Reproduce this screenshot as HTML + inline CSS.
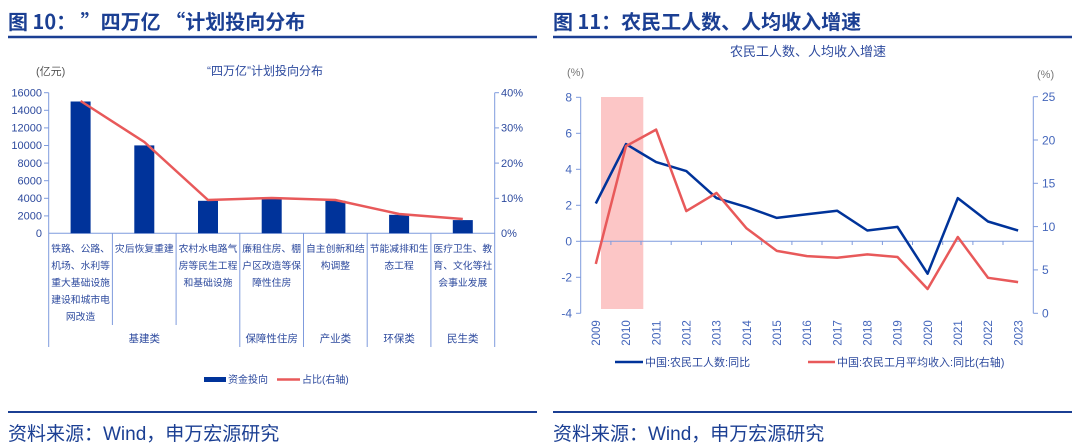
<!DOCTYPE html>
<html><head><meta charset="utf-8"><style>
html,body{margin:0;padding:0;background:#fff;}
svg{display:block;font-family:"Liberation Sans","Noto Sans CJK SC",sans-serif;}
.hd{font-family:"Noto Sans CJK SC","Liberation Sans",sans-serif;}
</style></head><body>
<svg width="1080" height="447" viewBox="0 0 1080 447" xmlns="http://www.w3.org/2000/svg">
<!-- headers -->
<text class="hd" x="8" y="29" font-size="20" font-weight="bold" fill="#1b3f93" xml:space="preserve">图 10： ”四万亿 “计划投向分布</text>
<line x1="8" y1="37" x2="537" y2="37" stroke="#1b3f93" stroke-width="2.5"/>
<text class="hd" x="553" y="29" font-size="20" font-weight="bold" fill="#1b3f93">图 11：农民工人数、人均收入增速</text>
<line x1="553" y1="37" x2="1072" y2="37" stroke="#1b3f93" stroke-width="2.5"/>
<!-- footers -->
<line x1="8" y1="412" x2="537" y2="412" stroke="#1b3f93" stroke-width="2"/>
<line x1="553" y1="412" x2="1072" y2="412" stroke="#1b3f93" stroke-width="2"/>
<text x="8" y="440" font-size="19" fill="#1b3f93">资料来源：Wind，申万宏源研究</text>
<text x="553" y="440" font-size="19" fill="#1b3f93">资料来源：Wind，申万宏源研究</text>

<!-- LEFT CHART -->
<g font-size="11" fill="#2d4a9e">
<text x="265" y="75" text-anchor="middle" font-size="12">“四万亿”计划投向分布</text>
<text x="36" y="75" font-size="11" fill="#555">(亿元)</text>
<g text-anchor="end">
<text x="42" y="96.5">16000</text><text x="42" y="114">14000</text><text x="42" y="131.6">12000</text>
<text x="42" y="149.2">10000</text><text x="42" y="166.8">8000</text><text x="42" y="184.4">6000</text>
<text x="42" y="202">4000</text><text x="42" y="219.6">2000</text><text x="42" y="237.2">0</text>
</g>
<g>
<text x="501" y="96.5">40%</text><text x="501" y="131.6">30%</text><text x="501" y="166.8">20%</text>
<text x="501" y="202">10%</text><text x="501" y="237.2">0%</text>
</g>
</g>
<g stroke="#7f9bdd" stroke-width="1">
<line x1="48.7" y1="92.7" x2="48.7" y2="347"/>
<line x1="494.7" y1="92.7" x2="494.7" y2="347"/>
<line x1="48.7" y1="233.3" x2="494.7" y2="233.3"/>
<line x1="112.4" y1="233.3" x2="112.4" y2="325"/>
<line x1="176.1" y1="233.3" x2="176.1" y2="325"/>
<line x1="239.8" y1="233.3" x2="239.8" y2="347"/>
<line x1="303.5" y1="233.3" x2="303.5" y2="347"/>
<line x1="367.2" y1="233.3" x2="367.2" y2="347"/>
<line x1="430.9" y1="233.3" x2="430.9" y2="347"/>
<line x1="44" y1="92.7" x2="48.7" y2="92.7"/><line x1="44" y1="110.3" x2="48.7" y2="110.3"/>
<line x1="44" y1="127.9" x2="48.7" y2="127.9"/><line x1="44" y1="145.5" x2="48.7" y2="145.5"/>
<line x1="44" y1="163.1" x2="48.7" y2="163.1"/><line x1="44" y1="180.7" x2="48.7" y2="180.7"/>
<line x1="44" y1="198.3" x2="48.7" y2="198.3"/><line x1="44" y1="215.9" x2="48.7" y2="215.9"/>
<line x1="494.7" y1="92.7" x2="499" y2="92.7"/><line x1="494.7" y1="127.9" x2="499" y2="127.9"/>
<line x1="494.7" y1="163.1" x2="499" y2="163.1"/><line x1="494.7" y1="198.3" x2="499" y2="198.3"/>
</g>
<g fill="#00339a">
<rect x="70.6" y="101.5" width="20" height="131.8"/>
<rect x="134.3" y="145.4" width="20" height="87.9"/>
<rect x="198" y="200.8" width="20" height="32.5"/>
<rect x="261.7" y="199" width="20" height="34.3"/>
<rect x="325.4" y="200.8" width="20" height="32.5"/>
<rect x="389.1" y="214.8" width="20" height="18.5"/>
<rect x="452.8" y="220.1" width="20" height="13.2"/>
</g>
<polyline fill="none" stroke="#e8595a" stroke-width="2.5" points="80.6,101 144.3,142 208,200 271.7,198 335.4,200 399.1,214 462.8,219"/>
<g font-size="9.8" fill="#2d4a9e" text-anchor="middle">
<text x="80.6" y="252">铁路、公路、</text><text x="80.6" y="269">机场、水利等</text><text x="80.6" y="286">重大基础设施</text><text x="80.6" y="303">建设和城市电</text><text x="80.6" y="320">网改造</text>
<text x="144.3" y="252">灾后恢复重建</text>
<text x="208" y="252">农村水电路气</text><text x="208" y="269">房等民生工程</text><text x="208" y="286">和基础设施</text>
<text x="271.7" y="252">廉租住房、棚</text><text x="271.7" y="269">户区改造等保</text><text x="271.7" y="286">障性住房</text>
<text x="335.4" y="252">自主创新和结</text><text x="335.4" y="269">构调整</text>
<text x="399.1" y="252">节能减排和生</text><text x="399.1" y="269">态工程</text>
<text x="462.8" y="252">医疗卫生、教</text><text x="462.8" y="269">育、文化等社</text><text x="462.8" y="286">会事业发展</text>
</g>
<g font-size="10.5" fill="#2d4a9e" text-anchor="middle">
<text x="144.3" y="342">基建类</text><text x="271.7" y="342">保障性住房</text><text x="335.4" y="342">产业类</text>
<text x="399.1" y="342">环保类</text><text x="462.8" y="342">民生类</text>
</g>
<rect x="204" y="377" width="22" height="5" fill="#00339a"/>
<text x="228" y="383" font-size="10" fill="#2d4a9e">资金投向</text>
<line x1="277" y1="379.5" x2="300" y2="379.5" stroke="#e8595a" stroke-width="2.5"/>
<text x="302" y="383" font-size="10" fill="#2d4a9e">占比(右轴)</text>

<!-- RIGHT CHART -->
<text x="808" y="56" text-anchor="middle" font-size="13" fill="#2d4a9e">农民工人数、人均收入增速</text>
<text x="567" y="76" font-size="11" fill="#777">(%)</text>
<text x="1037" y="78" font-size="11" fill="#777">(%)</text>
<rect x="601" y="97" width="42.3" height="212" fill="#fcc6c6"/>
<g stroke="#7f9bdd" stroke-width="1">
<line x1="580.7" y1="97.3" x2="580.7" y2="313.3"/>
<line x1="1033.3" y1="96.7" x2="1033.3" y2="313.3"/>
<line x1="580.7" y1="241.3" x2="1033.3" y2="241.3"/>
<line x1="576" y1="97.3" x2="580.7" y2="97.3"/><line x1="576" y1="133.3" x2="580.7" y2="133.3"/>
<line x1="576" y1="169.3" x2="580.7" y2="169.3"/><line x1="576" y1="205.3" x2="580.7" y2="205.3"/>
<line x1="576" y1="241.3" x2="580.7" y2="241.3"/><line x1="576" y1="277.3" x2="580.7" y2="277.3"/>
<line x1="576" y1="313.3" x2="580.7" y2="313.3"/>
<line x1="1033.3" y1="96.7" x2="1038" y2="96.7"/><line x1="1033.3" y1="140" x2="1038" y2="140"/>
<line x1="1033.3" y1="183.3" x2="1038" y2="183.3"/><line x1="1033.3" y1="226.6" x2="1038" y2="226.6"/>
<line x1="1033.3" y1="269.9" x2="1038" y2="269.9"/><line x1="1033.3" y1="313.3" x2="1038" y2="313.3"/>
<g>
<line x1="610.9" y1="241.3" x2="610.9" y2="245"/><line x1="641" y1="241.3" x2="641" y2="245"/>
<line x1="671.2" y1="241.3" x2="671.2" y2="245"/><line x1="701.4" y1="241.3" x2="701.4" y2="245"/>
<line x1="731.5" y1="241.3" x2="731.5" y2="245"/><line x1="761.7" y1="241.3" x2="761.7" y2="245"/>
<line x1="791.9" y1="241.3" x2="791.9" y2="245"/><line x1="822" y1="241.3" x2="822" y2="245"/>
<line x1="852.2" y1="241.3" x2="852.2" y2="245"/><line x1="882.4" y1="241.3" x2="882.4" y2="245"/>
<line x1="912.5" y1="241.3" x2="912.5" y2="245"/><line x1="942.7" y1="241.3" x2="942.7" y2="245"/>
<line x1="972.9" y1="241.3" x2="972.9" y2="245"/><line x1="1003" y1="241.3" x2="1003" y2="245"/>
</g>
</g>
<g font-size="12" fill="#4466bb" text-anchor="end">
<text x="572" y="101.5">8</text><text x="572" y="137.5">6</text><text x="572" y="173.5">4</text>
<text x="572" y="209.5">2</text><text x="572" y="245.5">0</text><text x="572" y="281.5">-2</text><text x="572" y="317.5">-4</text>
</g>
<g font-size="12" fill="#4466bb">
<text x="1042" y="101">25</text><text x="1042" y="144.3">20</text><text x="1042" y="187.6">15</text>
<text x="1042" y="230.9">10</text><text x="1042" y="274.2">5</text><text x="1042" y="317.5">0</text>
</g>
<g font-size="11.5" fill="#4466bb" text-anchor="middle">
<text transform="translate(600,333) rotate(-90)">2009</text>
<text transform="translate(630.2,333) rotate(-90)">2010</text>
<text transform="translate(660.3,333) rotate(-90)">2011</text>
<text transform="translate(690.5,333) rotate(-90)">2012</text>
<text transform="translate(720.7,333) rotate(-90)">2013</text>
<text transform="translate(750.8,333) rotate(-90)">2014</text>
<text transform="translate(781,333) rotate(-90)">2015</text>
<text transform="translate(811.2,333) rotate(-90)">2016</text>
<text transform="translate(841.3,333) rotate(-90)">2017</text>
<text transform="translate(871.5,333) rotate(-90)">2018</text>
<text transform="translate(901.7,333) rotate(-90)">2019</text>
<text transform="translate(931.8,333) rotate(-90)">2020</text>
<text transform="translate(962,333) rotate(-90)">2021</text>
<text transform="translate(992.2,333) rotate(-90)">2022</text>
<text transform="translate(1022.3,333) rotate(-90)">2023</text>
</g>
<polyline fill="none" stroke="#00339a" stroke-width="2.5" stroke-linejoin="round" points="595.8,203.5 626,144.1 656.1,162.1 686.3,171.1 716.5,198.1 746.6,207.1 776.8,217.9 807,214.3 837.1,210.7 867.3,230.5 897.5,226.9 927.6,273.7 957.8,198.1 988,221.5 1018.1,230.5"/>
<polyline fill="none" stroke="#e8595a" stroke-width="2.5" stroke-linejoin="round" points="595.8,263.9 626,146.1 656.1,129.6 686.3,211.1 716.5,192.9 746.6,228.4 776.8,250.9 807,256.1 837.1,257.8 867.3,254.4 897.5,257 927.6,289 957.8,237 988,277.8 1018.1,282.1"/>
<line x1="615" y1="362" x2="643" y2="362" stroke="#00339a" stroke-width="2.5"/>
<text x="645" y="366" font-size="11" fill="#2d4a9e">中国:农民工人数:同比</text>
<line x1="808" y1="362" x2="835" y2="362" stroke="#e8595a" stroke-width="2.5"/>
<text x="837" y="366" font-size="11" fill="#2d4a9e">中国:农民工月平均收入:同比(右轴)</text>
</svg>
</body></html>
